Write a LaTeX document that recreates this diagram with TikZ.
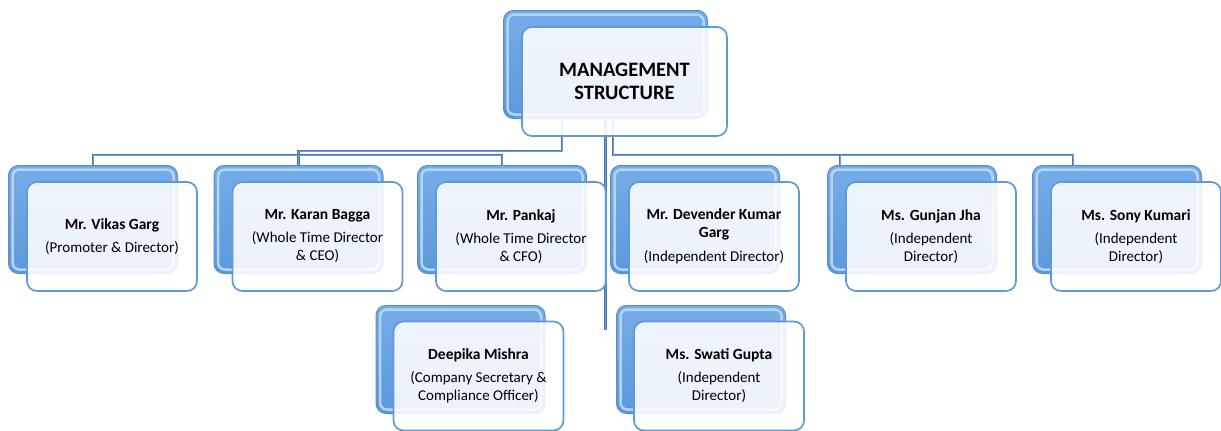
\documentclass[tikz,border=0pt]{standalone}
\usepackage{fontspec}
\setmainfont{Carlito}
\usepackage{xcolor}
\usepackage{tikz}
\usetikzlibrary{calc,positioning}

\definecolor{linkblue}{RGB}{72,120,178}
\definecolor{linklight}{RGB}{112,155,205}
\definecolor{edgeblue}{RGB}{88,142,206}
\definecolor{rimblue}{RGB}{178,214,247}
\definecolor{topblue}{RGB}{118,172,232}
\definecolor{bodyblue}{RGB}{92,152,220}
\definecolor{frameblue}{RGB}{96,154,214}

\tikzset{
  link/.style={draw=linkblue,line width=1.1pt,double=linklight,double distance=0.7pt},
  backbox/.style={draw=edgeblue,line width=1pt,rounded corners=10pt,
    top color=topblue,bottom color=bodyblue,
    path picture={\draw[rimblue,line width=2.5pt,rounded corners=7pt]
      ([shift={(4pt,-4pt)}]path picture bounding box.north west) rectangle
      ([shift={(-4pt,4pt)}]path picture bounding box.south east);},
    minimum width=169pt,minimum height=108pt,inner sep=0pt},
  frontbox/.style={draw=frameblue,line width=1.7pt,rounded corners=10pt,
    fill=white,fill opacity=0.88,text opacity=1,
    minimum width=170pt,minimum height=109pt,inner sep=2pt,align=center,
    font=\fontsize{15}{18}\selectfont}
}

\begin{document}
\begin{tikzpicture}[x=1pt,y=-1pt]
  \useasboundingbox (0,0) rectangle (1221,431);

  % back layer of every box
  \node[backbox,minimum width=204pt] (mgmt-back) at (605.5,64.5) {};
  \node[backbox] (vikas-back) at (93,219.5) {};
  \node[backbox] (karan-back) at (298.5,219.5) {};
  \node[backbox] (pankaj-back) at (502,219.5) {};
  \node[backbox] (devender-back) at (695,219.5) {};
  \node[backbox] (gunjan-back) at (912,219.5) {};
  \node[backbox] (sony-back) at (1117,219.5) {};
  \node[backbox] (deepika-back) at (460.5,359.5) {};
  \node[backbox] (swati-back) at (701,359.5) {};

  % connectors
  \draw[link] ([xshift=-43.5]mgmt-back.south) |- ([yshift=14]karan-back.north) -- (karan-back.north);
  \draw[link] (vikas-back.north) -- ++(0,-10) -| (pankaj-back.north);
  \coordinate (stem-end) at (605,330);
  \draw[link] (mgmt-back.south) -- (mgmt-back.south |- stem-end);
  \draw[link] ([xshift=7.5]mgmt-back.south) |- ([xshift=-44,yshift=10]sony-back.north) -- ([xshift=-44]sony-back.north);
  \draw[link] ([xshift=-72,yshift=10]gunjan-back.north) -- ([xshift=-72]gunjan-back.north);

  % front layer of every box
  \node[frontbox,minimum width=205pt,font=\bfseries\fontsize{20.5}{23}\selectfont] (mgmt) at (624.5,81.5) {MANAGEMENT\\STRUCTURE};
  \node[frontbox] (vikas) at (112,236.5) {\textbf{\fontsize{15.5}{17}\selectfont Mr. Vikas Garg}\\[5pt](Promoter \& Director)};
  \node[frontbox] (karan) at (317.5,236.5) {\textbf{\fontsize{15.5}{17}\selectfont Mr. Karan Bagga}\\[5pt](Whole Time Director\\\& CEO)};
  \node[frontbox] (pankaj) at (521,236.5) {\textbf{\fontsize{15.5}{17}\selectfont Mr. Pankaj}\\[5pt](Whole Time Director\\\& CFO)};
  \node[frontbox] (devender) at (714,236.5) {\textbf{\fontsize{15.5}{17}\selectfont Mr. Devender Kumar}\\\textbf{\fontsize{15.5}{17}\selectfont Garg}\\[6pt](Independent Director)};
  \node[frontbox] (gunjan) at (931,236.5) {\textbf{\fontsize{15.5}{17}\selectfont Ms. Gunjan Jha}\\[5pt](Independent\\Director)};
  \node[frontbox] (sony) at (1136,236.5) {\textbf{\fontsize{15.5}{17}\selectfont Ms. Sony Kumari}\\[5pt](Independent\\Director)};
  \node[frontbox] (deepika) at (478.5,376) {\textbf{\fontsize{15.5}{17}\selectfont Deepika Mishra}\\[5pt](Company Secretary \&\\Compliance Officer)};
  \node[frontbox] (swati) at (719,376) {\textbf{\fontsize{15.5}{17}\selectfont Ms. Swati Gupta}\\[5pt](Independent\\Director)};
\end{tikzpicture}
\end{document}
